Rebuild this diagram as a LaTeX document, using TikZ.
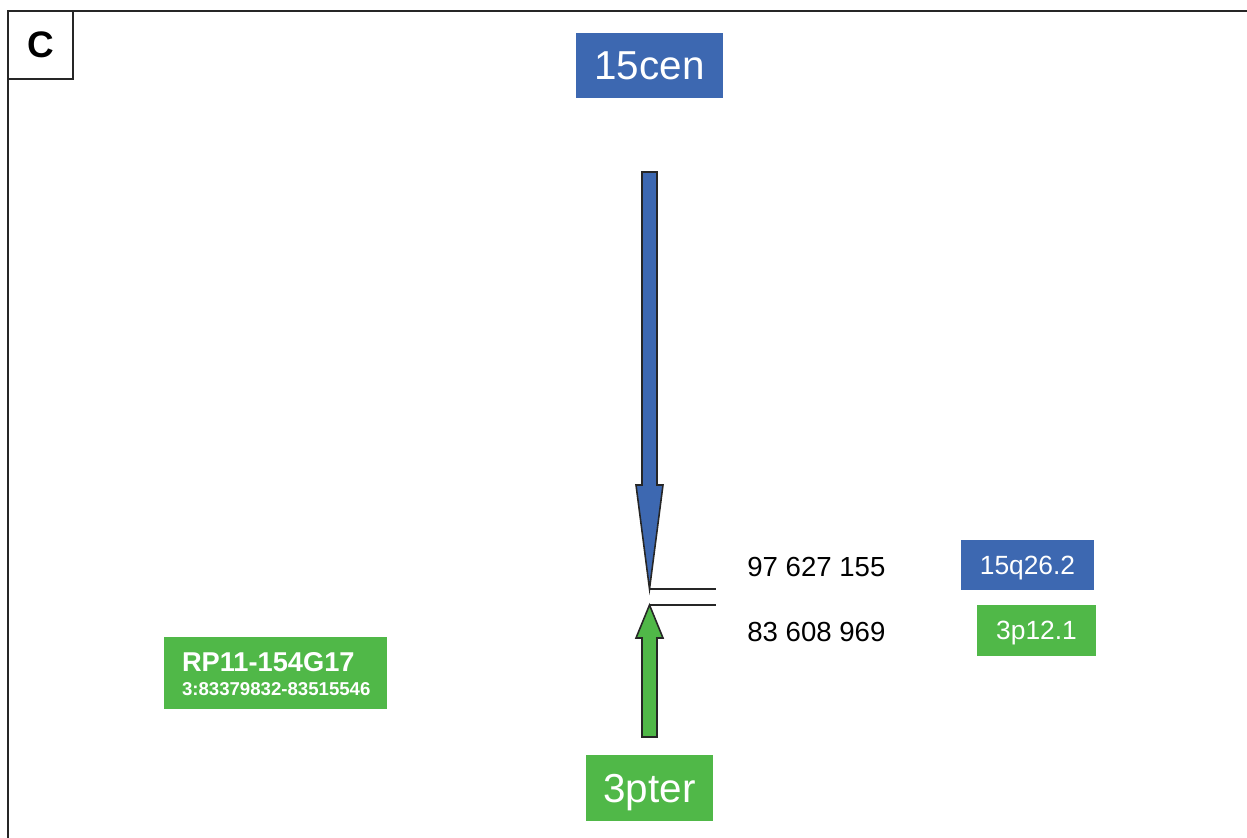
\documentclass[tikz,border=0pt]{standalone}
\usepackage{fontspec}
\setmainfont{Liberation Sans}
\definecolor{chrblue}{RGB}{61,104,177}
\definecolor{chrgreen}{RGB}{80,184,72}
\newcommand*{\tipx}{649.5}

\begin{document}
\begin{tikzpicture}
[
	x=0.02cm, y=-0.02cm,
	bluebox/.style={fill=chrblue,text=white,inner sep=0pt,text depth=0pt},
	greenbox/.style={fill=chrgreen,text=white,inner sep=0pt,text depth=0pt},
	blockarrow/.style={draw=black!85,line width=0.9pt,line join=miter},
	tickline/.style={draw=black!85,line width=0.8pt},
	posnum/.style={anchor=west,inner sep=0pt,font=\fontsize{15.7}{18}\selectfont}
]
	\useasboundingbox (0,0) rectangle (1247,838);

	% frame
	\draw[line width=1.1pt,black!85] (8,838) -- (8,11) -- (1247,11);
	\node[draw=black!85,line width=1.1pt,minimum width=1.30cm,minimum height=1.36cm,inner sep=0pt,
		font=\fontsize{21}{24}\selectfont\bfseries] (panel) at (40.5,45) {C};

	% ends
	\node[bluebox,minimum width=2.94cm,minimum height=1.30cm,font=\fontsize{23}{27}\selectfont]
		(cen) at (\tipx,65.5) {15cen};
	\node[greenbox,minimum width=2.56cm,minimum height=1.32cm,font=\fontsize{23}{27}\selectfont]
		(pter) at (\tipx,788) {3pter};

	% arrows
	\filldraw[blockarrow,fill=chrblue] (642,172) -- (657,172) -- (657,485) -- (663,485)
		-- (\tipx,589) coordinate (bluetip) -- (636,485) -- (642,485) -- cycle;
	\filldraw[blockarrow,fill=chrgreen] (642,737) -- (657,737) -- (657,638) -- (663,638)
		-- (\tipx,605) coordinate (greentip) -- (636,638) -- (642,638) -- cycle;

	% breakpoints
	\coordinate (blueend) at (716,589);
	\coordinate (greenend) at (716,605);
	\draw[tickline] (bluetip) -- (blueend);
	\draw[tickline] (greentip) -- (greenend);
	\node[posnum] (bluepos) at (747,567) {97 627 155};
	\node[posnum] (greenpos) at (747,632) {83 608 969};
	\node[bluebox,minimum width=2.66cm,minimum height=1.0cm,font=\fontsize{15}{18}\selectfont]
		(bluebnd) at (1027.5,565) {15q26.2};
	\node[greenbox,minimum width=2.38cm,minimum height=1.02cm,font=\fontsize{15}{18}\selectfont]
		(greenbnd) at (1036.5,630.5) {3p12.1};

	% probe
	\node[greenbox,minimum height=1.44cm,inner xsep=0.36cm,text width=3.74cm,align=left,
		text depth=0.44cm,font=\fontsize{10.6}{13.6}\selectfont\bfseries]
		(probe) at (275.5,673) {{\fontsize{15.5}{13.6}\selectfont RP11-154G17}\\
		\mbox{3:83379832-83515546}};

\end{tikzpicture}
\end{document}
